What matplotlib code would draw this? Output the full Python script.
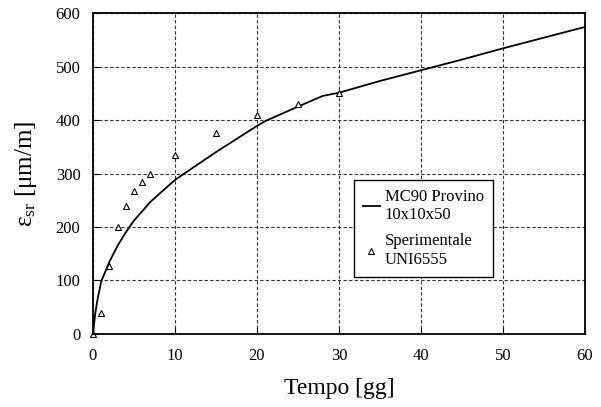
import matplotlib.pyplot as plt

plt.rcParams['font.family'] = ['Liberation Serif', 'DejaVu Serif']
plt.rcParams['mathtext.fontset'] = 'custom'
plt.rcParams['mathtext.rm'] = 'Liberation Serif'

# modello MC90
t_model = [0, 0.25, 0.5, 1, 2, 3, 4, 5, 7, 10, 15, 20, 21, 25, 28, 30, 35, 40, 45, 50, 55, 60]
eps_model = [0, 35, 60, 98, 135, 165, 190, 212, 247, 288, 340, 389, 398, 425, 445, 451, 473, 493, 513, 534, 554, 574]

# dati sperimentali
t_exp = [0, 1, 2, 3, 4, 5, 6, 7, 10, 15, 20, 25, 30]
eps_exp = [0, 40, 128, 200, 240, 268, 285, 300, 335, 375, 410, 430, 450]

fig = plt.figure(figsize=(6.01, 4.07), dpi=100)
ax = fig.add_axes([0.1547, 0.1794, 0.8187, 0.7886])

ax.plot(t_model, eps_model, color='black', linewidth=1.3, label='MC90 Provino\n10x10x50')
ax.plot(t_exp, eps_exp, linestyle='none', marker='^', markersize=5, markerfacecolor='white',
        markeredgecolor='black', markeredgewidth=0.8, label='Sperimentale\nUNI6555', clip_on=False)

ax.set_xlim(0, 60)
ax.set_ylim(0, 600)
ax.set_xticks(range(0, 61, 10))
ax.set_yticks(range(0, 601, 100))
ax.grid(True, linestyle=(0, (3, 2)), color='#333333', linewidth=0.8)
ax.tick_params(direction='in', labelsize=12, length=4)
ax.tick_params(axis='x', pad=10)
ax.tick_params(axis='y', pad=9)
for s in ax.spines.values():
    s.set_linewidth(1.3)

ax.set_xlabel('Tempo [gg]', fontsize=17, labelpad=10)
ax.set_ylabel(r'$\mathrm{\varepsilon_{sr}}$ [μm/m]', fontsize=18, labelpad=12)

leg = ax.legend(loc='lower right', bbox_to_anchor=(0.813, 0.178), borderaxespad=0,
                fontsize=12, frameon=True, fancybox=False, edgecolor='black', framealpha=1,
                handlelength=1.0, handletextpad=0.3, labelspacing=0.6, borderpad=0.55)
leg.get_frame().set_linewidth(1.0)

fig.savefig('out.png', dpi=100)
